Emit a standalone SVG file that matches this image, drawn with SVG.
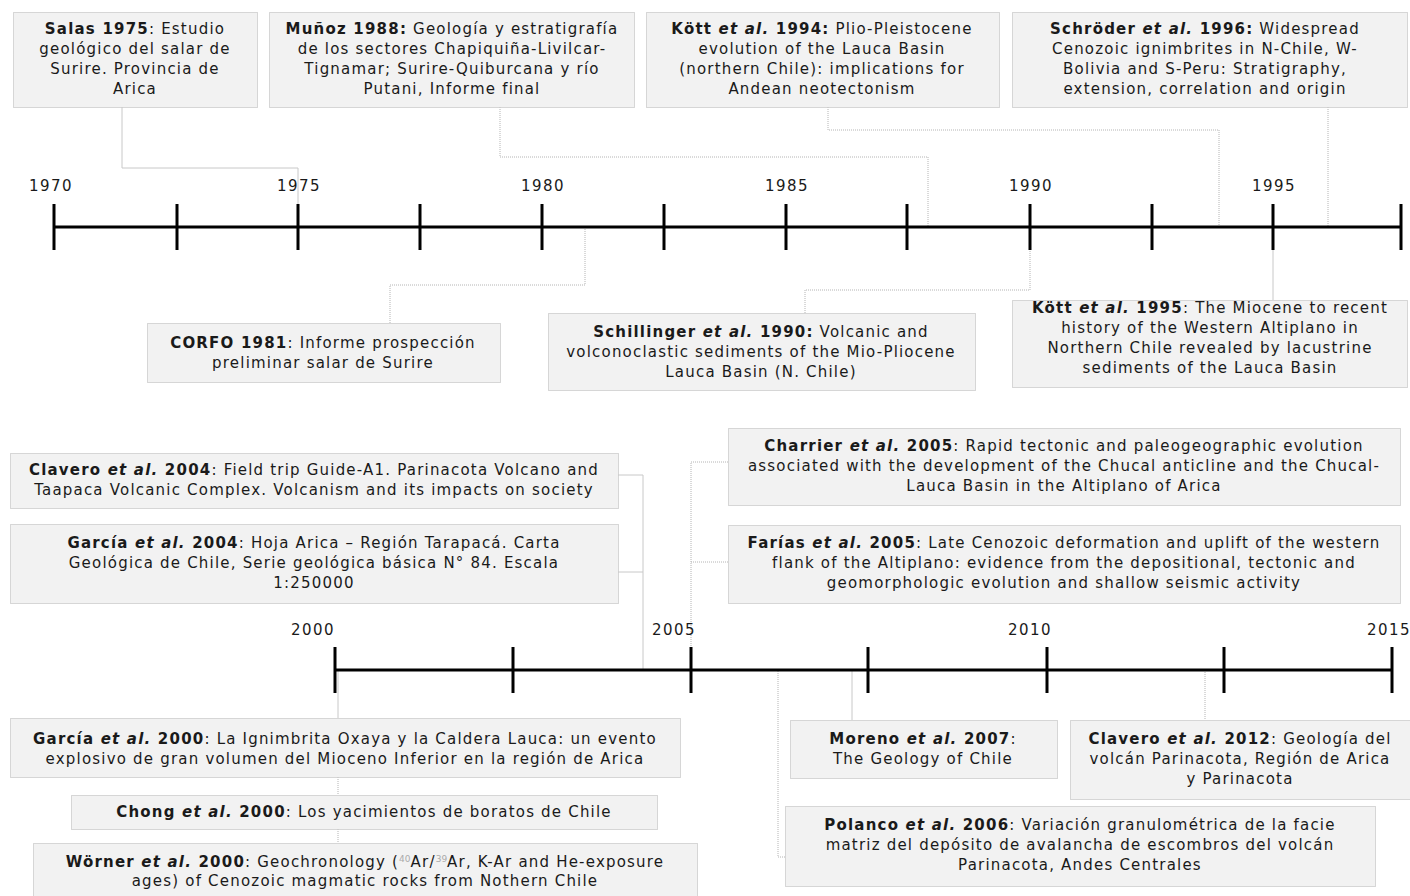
<svg xmlns="http://www.w3.org/2000/svg" width="1410" height="896" viewBox="0 0 1410 896">
<style>
.box{fill:#f2f2f2;stroke:#b4b4b4;stroke-width:1;stroke-dasharray:1 1}
.t{font-family:"DejaVu Sans",Verdana,sans-serif;font-size:15px;letter-spacing:1.2px;text-anchor:middle;fill:#1a1a1a}
.b{font-weight:bold}
.bi{font-weight:bold;font-style:italic}
.sup{font-size:9px;fill:#aaaaaa;letter-spacing:0}
.yr{font-family:"DejaVu Sans",Verdana,sans-serif;font-size:15px;letter-spacing:1.5px;text-anchor:middle;fill:#1a1a1a}
.axis{stroke:#000;stroke-width:3;fill:none}
.c{fill:none;stroke:#c8c8c8;stroke-width:1}
.cd{fill:none;stroke:#b4b4b4;stroke-width:1;stroke-dasharray:1 1}
</style>
<rect width="1410" height="896" fill="#ffffff"/>
<g id="connectors">
<polyline class="c" points="122,107 122,168 298,168 298,227"/>
<polyline class="cd" points="500,107 500,157 928,157 928,227"/>
<polyline class="cd" points="828,107 828,130 1219,130 1219,227"/>
<polyline class="cd" points="1328,107 1328,227"/>
<polyline class="cd" points="585,227 585,285 390,285 390,323"/>
<polyline class="cd" points="1030,227 1030,290 805,290 805,313"/>
<polyline class="c" points="1273,227 1273,300"/>
<polyline class="c" points="618,475 643,475 643,670"/>
<polyline class="c" points="618,572 643,572"/>
<polyline class="cd" points="728,462 691,462 691,670"/>
<polyline class="cd" points="728,562 691,562"/>
<polyline class="c" points="338,670 338,718"/>
<polyline class="cd" points="338,777 338,795"/>
<polyline class="cd" points="338,829 338,843"/>
<polyline class="c" points="852,670 852,720"/>
<polyline class="cd" points="1205,670 1205,720"/>
<polyline class="cd" points="785,857 778,857 778,670"/>
</g>
<g id="timeline1">
<path class="axis" d="M54,227H1401M54,204V250M177,204V250M298,204V250M420,204V250M542,204V250M664,204V250M786,204V250M907,204V250M1030,204V250M1152,204V250M1273,204V250M1401,204V250"/>
<text class="yr" x="51" y="191">1970</text>
<text class="yr" x="299" y="191">1975</text>
<text class="yr" x="543" y="191">1980</text>
<text class="yr" x="787" y="191">1985</text>
<text class="yr" x="1031" y="191">1990</text>
<text class="yr" x="1274" y="191">1995</text>
</g>
<g id="timeline2">
<path class="axis" d="M335,670H1392M335,647V693M513,647V693M691,647V693M868,647V693M1047,647V693M1224,647V693M1392,647V693"/>
<text class="yr" x="313" y="635">2000</text>
<text class="yr" x="674" y="635">2005</text>
<text class="yr" x="1030" y="635">2010</text>
<text class="yr" x="1389" y="635">2015</text>
</g>
<g id="salas1975">
<rect class="box" x="13.5" y="12.5" width="244" height="95"/>
<text class="t" x="135" y="34"><tspan class="b">Salas 1975</tspan>: Estudio</text>
<text class="t" x="135" y="54">geológico del salar de</text>
<text class="t" x="135" y="74">Surire. Provincia de</text>
<text class="t" x="135" y="94">Arica</text>
</g>
<g id="munoz1988">
<rect class="box" x="269.5" y="12.5" width="365" height="95"/>
<text class="t" x="452" y="34"><tspan class="b">Muñoz 1988:</tspan> Geología y estratigrafía</text>
<text class="t" x="452" y="54">de los sectores Chapiquiña-Livilcar-</text>
<text class="t" x="452" y="74">Tignamar; Surire-Quiburcana y río</text>
<text class="t" x="452" y="94">Putani, Informe final</text>
</g>
<g id="kott1994">
<rect class="box" x="646.5" y="12.5" width="353" height="95"/>
<text class="t" x="822" y="34"><tspan class="b">Kött </tspan><tspan class="bi">et al.</tspan><tspan class="b"> 1994:</tspan> Plio-Pleistocene</text>
<text class="t" x="822" y="54">evolution of the Lauca Basin</text>
<text class="t" x="822" y="74">(northern Chile): implications for</text>
<text class="t" x="822" y="94">Andean neotectonism</text>
</g>
<g id="schroder1996">
<rect class="box" x="1012.5" y="12.5" width="395" height="95"/>
<text class="t" x="1205" y="34"><tspan class="b">Schröder </tspan><tspan class="bi">et al.</tspan><tspan class="b"> 1996:</tspan> Widespread</text>
<text class="t" x="1205" y="54">Cenozoic ignimbrites in N-Chile, W-</text>
<text class="t" x="1205" y="74">Bolivia and S-Peru: Stratigraphy,</text>
<text class="t" x="1205" y="94">extension, correlation and origin</text>
</g>
<g id="corfo1981">
<rect class="box" x="147.5" y="323.5" width="353" height="59"/>
<text class="t" x="323" y="348"><tspan class="b">CORFO 1981</tspan>: Informe prospección</text>
<text class="t" x="323" y="368">preliminar salar de Surire</text>
</g>
<g id="schillinger1990">
<rect class="box" x="548.5" y="313.5" width="427" height="77"/>
<text class="t" x="761" y="337"><tspan class="b">Schillinger </tspan><tspan class="bi">et al.</tspan><tspan class="b"> 1990:</tspan> Volcanic and</text>
<text class="t" x="761" y="357">volconoclastic sediments of the Mio-Pliocene</text>
<text class="t" x="761" y="377">Lauca Basin (N. Chile)</text>
</g>
<g id="kott1995">
<rect class="box" x="1012.5" y="300.5" width="395" height="87"/>
<text class="t" x="1210" y="313"><tspan class="b">Kött </tspan><tspan class="bi">et al.</tspan><tspan class="b"> 1995</tspan>: The Miocene to recent</text>
<text class="t" x="1210" y="333">history of the Western Altiplano in</text>
<text class="t" x="1210" y="353">Northern Chile revealed by lacustrine</text>
<text class="t" x="1210" y="373">sediments of the Lauca Basin</text>
</g>
<g id="clavero2004">
<rect class="box" x="10.5" y="453.5" width="608" height="55"/>
<text class="t" x="314" y="475"><tspan class="b">Clavero </tspan><tspan class="bi">et al.</tspan><tspan class="b"> 2004</tspan>: Field trip Guide-A1. Parinacota Volcano and</text>
<text class="t" x="314" y="495">Taapaca Volcanic Complex. Volcanism and its impacts on society</text>
</g>
<g id="garcia2004">
<rect class="box" x="10.5" y="524.5" width="608" height="79"/>
<text class="t" x="314" y="548"><tspan class="b">García </tspan><tspan class="bi">et al.</tspan><tspan class="b"> 2004</tspan>: Hoja Arica – Región Tarapacá. Carta</text>
<text class="t" x="314" y="568">Geológica de Chile, Serie geológica básica N° 84. Escala</text>
<text class="t" x="314" y="588">1:250000</text>
</g>
<g id="charrier2005">
<rect class="box" x="728.5" y="428.5" width="672" height="77"/>
<text class="t" x="1064" y="451"><tspan class="b">Charrier </tspan><tspan class="bi">et al.</tspan><tspan class="b"> 2005</tspan>: Rapid tectonic and paleogeographic evolution</text>
<text class="t" x="1064" y="471">associated with the development of the Chucal anticline and the Chucal-</text>
<text class="t" x="1064" y="491">Lauca Basin in the Altiplano of Arica</text>
</g>
<g id="farias2005">
<rect class="box" x="728.5" y="525.5" width="672" height="78"/>
<text class="t" x="1064" y="548"><tspan class="b">Farías </tspan><tspan class="bi">et al.</tspan><tspan class="b"> 2005</tspan>: Late Cenozoic deformation and uplift of the western</text>
<text class="t" x="1064" y="568">flank of the Altiplano: evidence from the depositional, tectonic and</text>
<text class="t" x="1064" y="588">geomorphologic evolution and shallow seismic activity</text>
</g>
<g id="garcia2000">
<rect class="box" x="10.5" y="718.5" width="670" height="59"/>
<text class="t" x="345" y="744"><tspan class="b">García </tspan><tspan class="bi">et al.</tspan><tspan class="b"> 2000</tspan>: La Ignimbrita Oxaya y la Caldera Lauca: un evento</text>
<text class="t" x="345" y="764">explosivo de gran volumen del Mioceno Inferior en la región de Arica</text>
</g>
<g id="chong2000">
<rect class="box" x="71.5" y="795.5" width="586" height="34"/>
<text class="t" x="364" y="817"><tspan class="b">Chong </tspan><tspan class="bi">et al.</tspan><tspan class="b"> 2000</tspan>: Los yacimientos de boratos de Chile</text>
</g>
<g id="worner2000">
<rect class="box" x="33.5" y="843.5" width="664" height="60"/>
<text class="t" x="365" y="867"><tspan class="b">Wörner </tspan><tspan class="bi">et al.</tspan><tspan class="b"> 2000</tspan>: Geochronology (<tspan class="sup" dy="-5">40</tspan><tspan dy="5">Ar/</tspan><tspan class="sup" dy="-5">39</tspan><tspan dy="5">Ar, K-Ar and He-exposure</tspan></text>
<text class="t" x="365" y="886">ages) of Cenozoic magmatic rocks from Nothern Chile</text>
</g>
<g id="moreno2007">
<rect class="box" x="790.5" y="720.5" width="267" height="58"/>
<text class="t" x="923" y="744"><tspan class="b">Moreno </tspan><tspan class="bi">et al.</tspan><tspan class="b"> 2007</tspan>:</text>
<text class="t" x="923" y="764">The Geology of Chile</text>
</g>
<g id="clavero2012">
<rect class="box" x="1070.5" y="720.5" width="340" height="79"/>
<text class="t" x="1240" y="744"><tspan class="b">Clavero </tspan><tspan class="bi">et al.</tspan><tspan class="b"> 2012</tspan>: Geología del</text>
<text class="t" x="1240" y="764">volcán Parinacota, Región de Arica</text>
<text class="t" x="1240" y="784">y Parinacota</text>
</g>
<g id="polanco2006">
<rect class="box" x="785.5" y="806.5" width="590" height="80"/>
<text class="t" x="1080" y="830"><tspan class="b">Polanco </tspan><tspan class="bi">et al.</tspan><tspan class="b"> 2006</tspan>: Variación granulométrica de la facie</text>
<text class="t" x="1080" y="850">matriz del depósito de avalancha de escombros del volcán</text>
<text class="t" x="1080" y="870">Parinacota, Andes Centrales</text>
</g>
</svg>
